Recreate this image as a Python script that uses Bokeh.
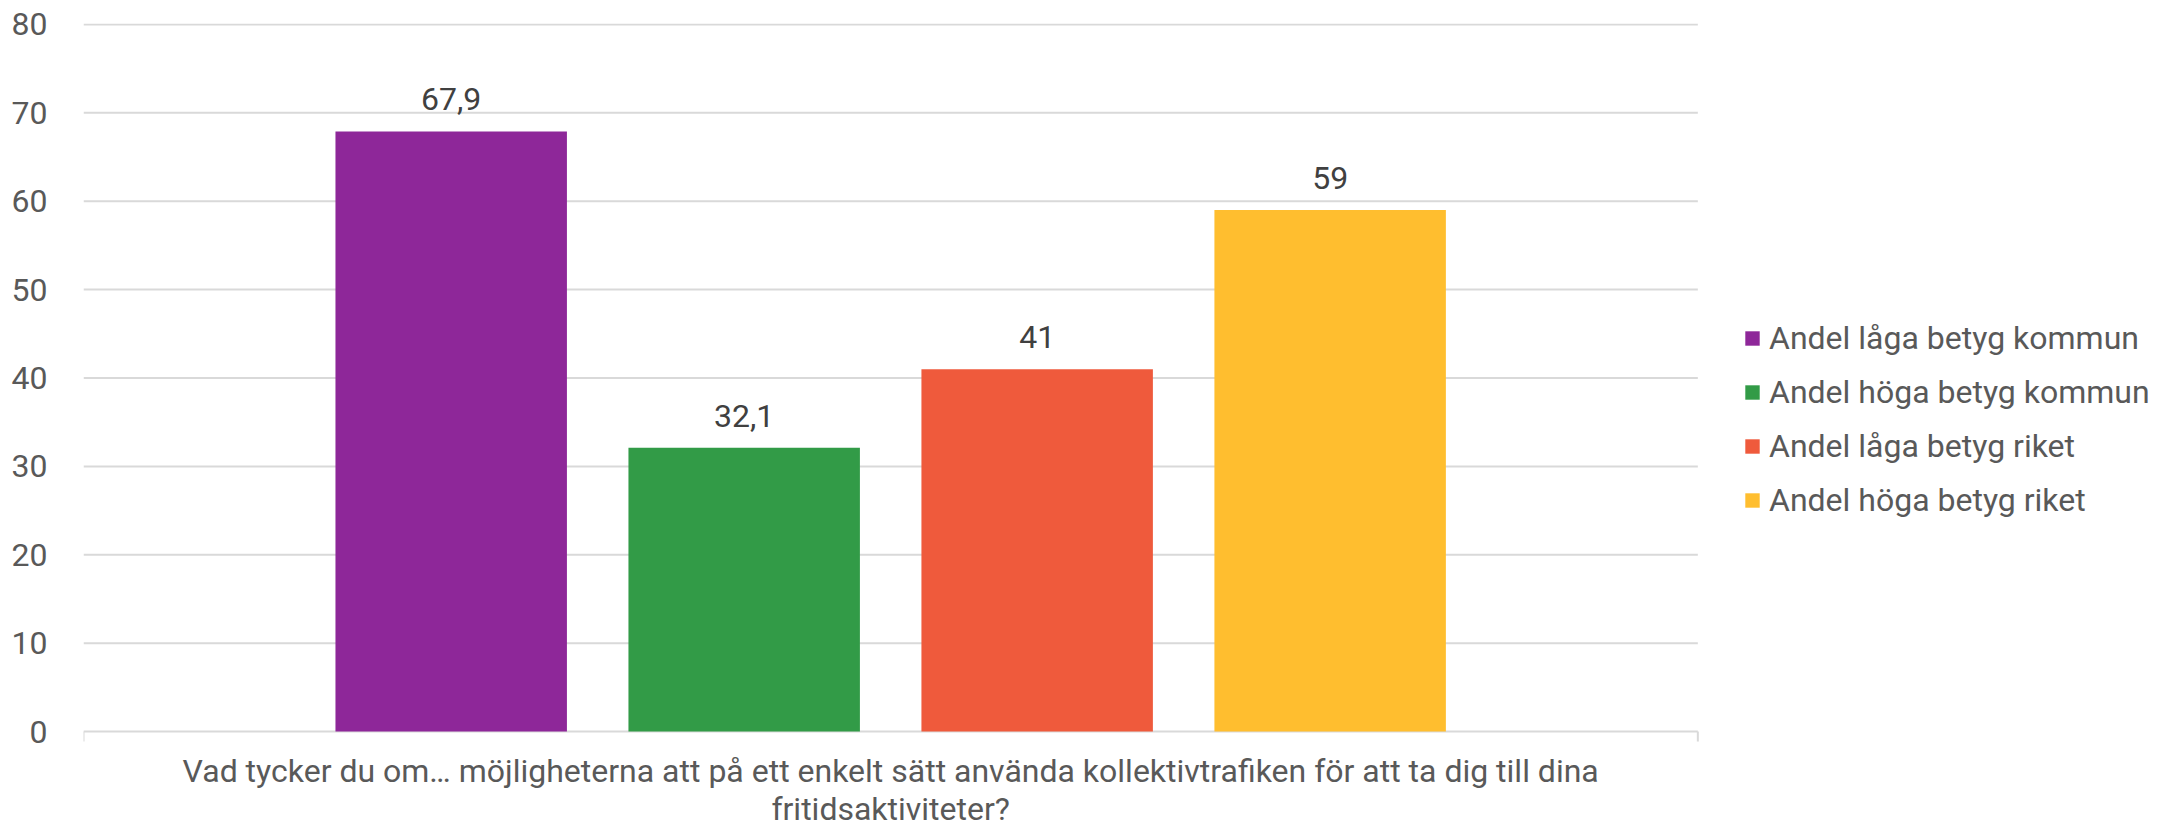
from bokeh.plotting import figure
from bokeh.models import ColumnDataSource, FixedTicker, Range1d, Legend, LegendItem
from bokeh.core.properties import value
from bokeh.embed import file_html
from bokeh.resources import INLINE

question_lines = ["Vad tycker du om… möjligheterna att på ett enkelt sätt använda kollektivtrafiken för att ta dig till dina",
                  "fritidsaktiviteter?"]
series = ["Andel låga betyg kommun", "Andel höga betyg kommun", "Andel låga betyg riket", "Andel höga betyg riket"]
values = [67.9, 32.1, 41, 59]
colors = ["#8E2799", "#329B47", "#EF5A3C", "#FFBE2F"]
y_ticks = [0, 10, 20, 30, 40, 50, 60, 70, 80]

FONT = "Roboto"
GRAY = "#595959"
GRID = "#D9D9D9"
FS = "32px"

def fmt(v):
    return ("%g" % v).replace(".", ",")

# category span (one category, four bars)
x_lo, x_hi = -1.255, 4.255
x_mid = (x_lo + x_hi) / 2
px_per_y = 8.838
tick_len = 10 / px_per_y

p = figure(width=2150, height=824, output_backend="svg", toolbar_location=None,
           x_range=Range1d(x_lo, 5.8), y_range=Range1d(-10.52, 80.11),
           min_border_left=83, min_border_right=0, min_border_top=23, min_border_bottom=0)
p.outline_line_color = None
p.background_fill_color = "white"
p.border_fill_color = "white"
p.xgrid.grid_line_color = None
p.ygrid.grid_line_color = None
p.xaxis.visible = False

# gridlines across the category span only
p.segment(x0=[x_lo] * len(y_ticks), x1=[x_hi] * len(y_ticks), y0=y_ticks, y1=y_ticks,
          line_color=GRID, line_width=2)
# category boundary ticks below the axis
p.segment(x0=[x_lo, x_hi], x1=[x_lo, x_hi], y0=[0, 0], y1=[-tick_len, -tick_len],
          line_color=GRID, line_width=2)

items = []
for i, (name, v, c) in enumerate(zip(series, values, colors)):
    src = ColumnDataSource(dict(x=[i], top=[v], lab=[fmt(v)]))
    r = p.vbar(x="x", top="top", width=0.79, bottom=0, source=src, fill_color=c, line_color=None)
    items.append(LegendItem(label=name, renderers=[r]))
    p.text(x="x", y="top", text="lab", source=src, text_align="center", text_baseline="alphabetic",
           y_offset=-32, text_font=value(FONT), text_font_size=FS, text_color="#404040")

# category label under the axis
qsrc = ColumnDataSource(dict(x=[x_mid] * len(question_lines), y=[0] * len(question_lines),
                             t=question_lines, off=[39 + 38 * k for k in range(len(question_lines))]))
p.text(x="x", y="y", text="t", y_offset="off", source=qsrc, text_align="center",
       text_baseline="alphabetic", text_font=value(FONT), text_font_size=FS, text_color=GRAY)

legend = Legend(items=items, location=(1660, 305), orientation="vertical",
                glyph_width=18, glyph_height=18, label_standoff=8, label_height=36, spacing=16,
                padding=0, margin=0, border_line_color=None, background_fill_alpha=0,
                label_text_font=FONT, label_text_font_size=FS, label_text_color=GRAY)
p.add_layout(legend, "center")

# y axis
p.yaxis.ticker = FixedTicker(ticks=y_ticks)
p.yaxis.axis_line_color = None
p.yaxis.major_tick_line_color = None
p.yaxis.minor_tick_line_color = None
p.yaxis.major_label_standoff = 30
p.yaxis.major_label_text_font = FONT
p.yaxis.major_label_text_font_size = FS
p.yaxis.major_label_text_color = GRAY

open("out.html", "w").write(file_html(p, INLINE))
